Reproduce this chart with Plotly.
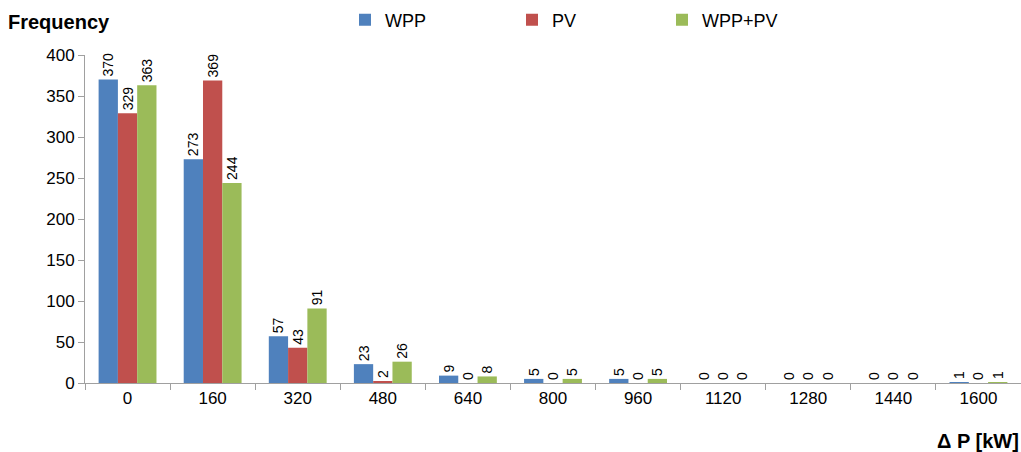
import plotly.graph_objects as go

# Frequency of power deviations per bin
bins = ["0", "160", "320", "480", "640", "800", "960", "1120", "1280", "1440", "1600"]
wpp = [370, 273, 57, 23, 9, 5, 5, 0, 0, 0, 1]
pv = [329, 369, 43, 2, 0, 0, 0, 0, 0, 0, 0]
wpp_pv = [363, 244, 91, 26, 8, 5, 5, 0, 0, 0, 1]

series = [
    ("WPP", wpp, "#4F81BD", "legend", 345),
    ("PV", pv, "#C0504D", "legend2", 512),
    ("WPP+PV", wpp_pv, "#9BBB59", "legend3", 662),
]

FONT = "Liberation Sans"
W, H = 1021, 452

fig = go.Figure()
layout_legends = {}
for name, vals, color, leg, left in series:
    fig.add_trace(go.Bar(
        x=bins, y=vals, name=name, legend=leg,
        marker=dict(color=color, line=dict(width=0)),
        text=[str(v) for v in vals],
        textposition="outside",
        textangle=-90,
        constraintext="none",
        textfont=dict(family=FONT, size=14, color="#000000"),
        cliponaxis=False,
    ))
    layout_legends[leg] = dict(
        xref="container", yref="container",
        x=left / W, y=1 - 20 / H, xanchor="left", yanchor="middle",
        orientation="h", font=dict(family=FONT, size=18),
        bgcolor="rgba(0,0,0,0)", itemwidth=30,
    )

fig.update_layout(
    width=W, height=H,
    margin=dict(l=85, r=0, t=55, b=69),
    paper_bgcolor="white", plot_bgcolor="white",
    barmode="group", bargap=0.32, bargroupgap=0,
    font=dict(family=FONT, size=17, color="#000000"),
    showlegend=True,
    xaxis=dict(
        type="category", tickson="boundaries",
        showline=True, linecolor="#A0A0A0", linewidth=1,
        ticks="outside", ticklen=6, tickcolor="#A0A0A0",
        showgrid=False, tickfont=dict(size=17),
    ),
    yaxis=dict(
        range=[0, 400], dtick=50,
        showline=True, linecolor="#A0A0A0", linewidth=1,
        ticks="outside", ticklen=6, tickcolor="#A0A0A0",
        showgrid=False, zeroline=False, tickfont=dict(size=17),
    ),
    annotations=[
        dict(text="<b>Frequency</b>", xref="paper", yref="paper",
             x=-79 / 936, y=(383 - 22) / 328, xanchor="left", yanchor="middle",
             showarrow=False, font=dict(family=FONT, size=20)),
        dict(text="<b>Δ P [kW]</b>", xref="paper", yref="paper",
             x=1.0, y=(383 - 441) / 328, xanchor="right", yanchor="middle",
             showarrow=False, font=dict(family=FONT, size=20)),
    ],
    **layout_legends,
)

fig.write_html("out.html")
